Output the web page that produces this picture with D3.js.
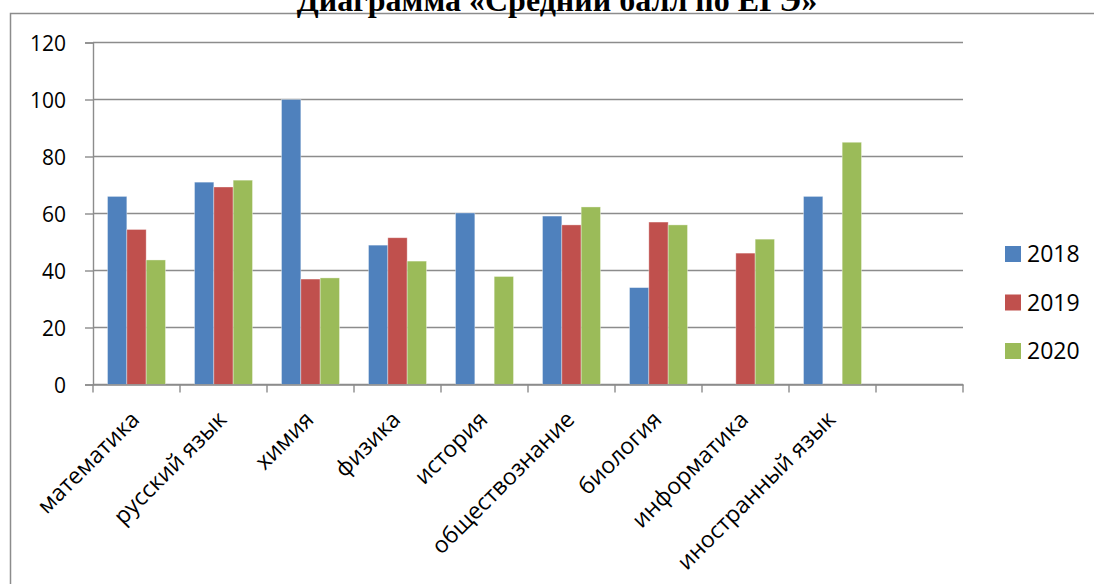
<!DOCTYPE html>
<html lang="ru">
<head>
<meta charset="utf-8">
<title>Средний балл по ЕГЭ</title>
<script src="https://d3js.org/d3.v7.min.js"></script>
<style>
  body { margin: 0; background: #fff; }
  .tick text { font-family: "Open Sans", sans-serif; font-size: 21px; fill: #000; }
  .xaxis .tick text { font-size: 23px; }
  .legend text { font-family: "Open Sans", sans-serif; font-size: 23px; fill: #000; }
</style>
</head>
<body>
<svg id="chart" width="1094" height="584"></svg>
<script>
// data
const subjects = ["математика", "русский язык", "химия", "физика", "история",
                  "обществознание", "биология", "информатика", "иностранный язык", ""];
const years = ["2018", "2019", "2020"];
const scores2018 = [66, 71, 100, 48.9, 60.2, 59.1, 34, null, 66, null];
const scores2019 = [54.4, 69.3, 37, 51.5, null, 56, 57, 46.1, null, null];
const scores2020 = [43.7, 71.7, 37.4, 43.3, 37.9, 62.3, 56, 51, 85, null];
const yTicks = [0, 20, 40, 60, 80, 100, 120];
const colors = ["#4F81BD", "#C0504D", "#9BBB59"];

const series = [scores2018, scores2019, scores2020];

const svg = d3.select("#chart");
const plotL = 93, plotR = 963, plotT = 42.5, plotB = 384.5;

// outer chart border (runs off the page at right and bottom)
svg.append("rect")
   .attr("x", 10.5).attr("y", 13.5)
   .attr("width", 1200).attr("height", 700)
   .attr("fill", "none").attr("stroke", "#8c8c8c").attr("stroke-width", 1.5);

// title, clipped by top edge like in the source
svg.append("text")
   .attr("x", 557).attr("y", 11)
   .attr("text-anchor", "middle")
   .style("font-family", "'Liberation Serif', serif")
   .style("font-weight", "bold")
   .style("font-size", "32px")
   .text("Диаграмма «Средний балл по ЕГЭ»");

const x0 = d3.scaleBand().domain(d3.range(subjects.length)).range([plotL, plotR]);
const x1 = d3.scaleBand().domain(years).range([0, x0.bandwidth() * 3 / 4.5]);
const barOffset = (x0.bandwidth() - x1.range()[1]) / 2;
const y = d3.scaleLinear().domain([0, 120]).range([plotB, plotT]);

// gridlines
svg.append("g")
   .selectAll("line")
   .data(yTicks)
   .join("line")
   .attr("x1", plotL).attr("x2", plotR)
   .attr("y1", d => y(d)).attr("y2", d => y(d))
   .attr("stroke", "#8c8c8c").attr("stroke-width", 1.4);

// y axis
const yAxis = svg.append("g")
   .attr("transform", `translate(${plotL},0)`)
   .call(d3.axisLeft(y).tickValues(yTicks).tickSize(8).tickPadding(19));
yAxis.select(".domain").attr("stroke", "#8c8c8c").attr("stroke-width", 1.4);
yAxis.selectAll(".tick line").attr("stroke", "#8c8c8c").attr("stroke-width", 1.4);
yAxis.selectAll(".tick text").attr("dy", "0.36em");

// bars
const groups = svg.append("g")
   .selectAll("g")
   .data(series)
   .join("g")
   .attr("fill", (d, i) => colors[i]);

groups.selectAll("rect")
   .data((d, i) => d.map((v, j) => ({v: v, j: j, year: years[i]})).filter(d => d.v !== null))
   .join("rect")
   .attr("x", d => x0(d.j) + barOffset + x1(d.year))
   .attr("width", x1.bandwidth())
   .attr("y", d => y(d.v))
   .attr("height", d => y(0) - y(d.v))
   .attr("stroke", "rgba(255,255,255,0.45)")
   .attr("stroke-width", 0.8);

// x axis
const xAxis = svg.append("g")
   .attr("class", "xaxis")
   .attr("transform", `translate(0,${plotB})`)
   .call(d3.axisBottom(x0).tickSize(0).tickFormat(i => subjects[i]));
xAxis.select(".domain").attr("stroke", "#8c8c8c").attr("stroke-width", 1.4);
xAxis.selectAll(".tick text")
   .attr("text-anchor", "end")
   .attr("transform", "translate(-7,25) rotate(-45)")
   .attr("dy", "0.7em")
   .attr("y", 0);

// tick marks on band edges
svg.append("g")
   .selectAll("line")
   .data(d3.range(subjects.length + 1))
   .join("line")
   .attr("x1", i => plotL + i * x0.step()).attr("x2", i => plotL + i * x0.step())
   .attr("y1", plotB).attr("y2", plotB + 8)
   .attr("stroke", "#8c8c8c").attr("stroke-width", 1.4);

// legend
const legend = svg.append("g").attr("class", "legend")
   .selectAll("g")
   .data(years)
   .join("g")
   .attr("transform", (d, i) => `translate(1005,${246 + i * 48.5})`);
legend.append("rect").attr("width", 16).attr("height", 16).attr("fill", (d, i) => colors[i]);
legend.append("text").attr("x", 22).attr("y", 16).text(d => d);
</script>
</body>
</html>
